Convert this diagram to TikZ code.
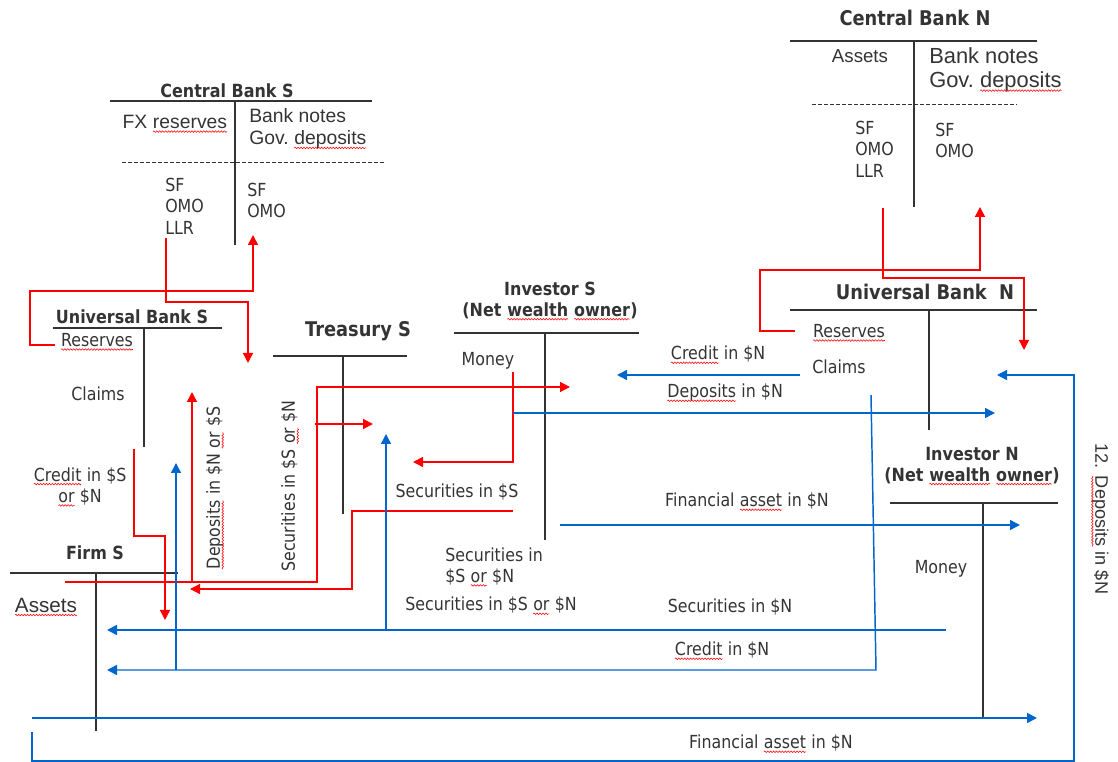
\documentclass[tikz,border=0pt]{standalone}
\usepackage{fontspec}
\setmainfont{DejaVu Sans}[FakeStretch=0.88]
\newfontfamily\arialfont{Liberation Sans}
\usetikzlibrary{arrows.meta,decorations.pathmorphing}

\definecolor{textgray}{RGB}{52,52,52}
\definecolor{linegray}{RGB}{51,51,51}
\definecolor{flowred}{RGB}{255,0,0}
\definecolor{flowblue}{RGB}{0,102,204}

% red wavy underline as in the original slide
\newcommand{\wavy}[1]{\tikz[baseline=(wavyword.base), x=1pt, y=1pt]{%
  \node[inner sep=0pt, outer sep=0pt] (wavyword) {#1};
  \draw[flowred, line width=0.4pt, decorate, decoration={snake, amplitude=0.6pt, segment length=2.2pt}]
    ([yshift=-2.2pt]wavyword.base west) -- ([yshift=-2.2pt]wavyword.base east);}}

\begin{document}
\begin{tikzpicture}[x=0.75pt, y=-0.75pt,
    acct/.style={line width=2.2pt, draw=linegray},
    split/.style={line width=0.6pt, dash pattern=on 3pt off 1.5pt, draw=linegray},
    head/.style={font=\bfseries\fontsize{13.6}{15.8}\selectfont, text=textgray, inner sep=0pt, align=center},
    bighead/.style={head, font=\bfseries\fontsize{15.2}{17}\selectfont},
    lbl/.style={font=\fontsize{13.5}{16}\selectfont, text=textgray, inner sep=0pt, align=left},
    cbtxt/.style={font=\arialfont\fontsize{14.5}{18}\selectfont, text=textgray, inner sep=0pt, anchor=west},
    redflow/.style={draw=flowred, line width=1.1pt, -{Triangle[length=7.5pt,width=7.5pt]}},
    blueflow/.style={draw=flowblue, line width=1.1pt, -{Triangle[length=7.5pt,width=7.5pt]}},
]
\useasboundingbox (0,0) rectangle (1118,762);

% CENTRAL BANK S
\node[head] (cbsTitle) at (227,91) {Central Bank S};
\draw[acct] (110,101) -- (372,101);
\draw[acct] (235,101) -- (235,245);
\draw[split] (122,162) -- (385,162);
\node[cbtxt, anchor=center] (cbsFX) at (175,124) {FX \wavy{reserves}};
\node[cbtxt] (cbsNotes) at (249,116) {Bank notes};
\node[cbtxt] (cbsGov) at (249,140) {Gov.\ \wavy{deposits}};
\node[lbl, anchor=north west] (cbsLeft) at (165,178) {SF\\OMO\\LLR};
\node[lbl, anchor=north west] (cbsRight) at (247,183) {SF\\OMO};

% CENTRAL BANK N
\node[bighead] (cbnTitle) at (915,18) {Central Bank N};
\draw[acct] (790,41) -- (1037,41);
\draw[acct] (914,41) -- (914,207);
\draw[split] (812,104) -- (1017,104);
\node[cbtxt, anchor=center, font=\arialfont\fontsize{14}{17}\selectfont] (cbnAssets) at (860,56) {Assets};
\node[cbtxt, font=\arialfont\fontsize{16.4}{20}\selectfont] (cbnNotes) at (929,56) {Bank notes};
\node[cbtxt, font=\arialfont\fontsize{16.4}{20}\selectfont] (cbnGov) at (929,82) {Gov.\ \wavy{deposits}};
\node[lbl, anchor=north west] (cbnLeft) at (855,121) {SF\\OMO\\LLR};
\node[lbl, anchor=north west] (cbnRight) at (935,123) {SF\\OMO};

% UNIVERSAL BANK S
\node[head] (ubsTitle) at (132,317) {Universal Bank S};
\draw[acct] (53,328) -- (222,328);
\draw[acct] (144,328) -- (144,447);
\node[lbl] (ubsRes) at (97,342) {\wavy{Reserves}};
\node[lbl] (ubsClaims) at (98,394) {Claims};

% TREASURY S
\node[bighead] (trsTitle) at (358,331) {Treasury S};
\draw[acct] (273,356) -- (407,356);
\draw[acct] (343,356) -- (343,514);

% INVESTOR S
\node[head] (invsTitle) at (550,301) {Investor S\\(Net \wavy{wealth} \wavy{owner})};
\draw[acct] (454,333) -- (639,333);
\draw[acct] (545,333) -- (545,540);
\node[lbl] (invsMoney) at (488,361) {Money};

% UNIVERSAL BANK N
\node[bighead] (ubnTitle) at (925,292) {Universal Bank\ \ N};
\draw[acct] (790,310) -- (1037,310);
\draw[acct] (929,310) -- (929,430);
\node[lbl] (ubnRes) at (849,333) {\wavy{Reserves}};
\node[lbl] (ubnClaims) at (839,367) {Claims};

% INVESTOR N
\node[head] (invnTitle) at (972,466) {Investor N\\(Net \wavy{wealth} \wavy{owner})};
\draw[acct] (890,503) -- (1058,503);
\draw[acct] (983,503) -- (983,718);
\node[lbl] (invnMoney) at (941,569) {Money};

% FIRM S
\node[head] (firmTitle) at (95,553) {Firm S};
\draw[acct] (10,573) -- (178,573);
\draw[acct] (96,573) -- (96,731);
\node[cbtxt, anchor=center, font=\arialfont\fontsize{15.5}{18}\selectfont] (firmAssets) at (46,607) {\wavy{Assets}};

% end points of the flows
\coordinate (ubsOut) at (55,345);
\coordinate (cbsIn) at (253,235);
\coordinate (cbsOut) at (166,238);
\coordinate (ubsIn) at (248,363);
\coordinate (ubnOut) at (795,331);
\coordinate (cbnIn) at (980,207);
\coordinate (cbnOut) at (883,208);
\coordinate (ubnIn) at (1024,350);
\coordinate (ubsCred) at (134,449);
\coordinate (firmCred) at (165,620);
\coordinate (firmPay) at (65,582);
\coordinate (ubsDep) at (192,392);
\coordinate (invsSec) at (570,387);
\coordinate (trsSecOut) at (315,424);
\coordinate (trsSecIn) at (373,424);
\coordinate (invsMon) at (513,372);
\coordinate (trsMon) at (413,462);
\coordinate (invsSecS) at (513,511);
\coordinate (firmSec) at (190,589);

\coordinate (ubnCred) at (800,375);
\coordinate (invsCred) at (617,375);
\coordinate (invsDep) at (513,413);
\coordinate (ubnDep) at (995,413);
\coordinate (firmDepN) at (32,732);
\coordinate (ubnDepIn) at (997,375);
\coordinate (firmFin) at (32,718);
\coordinate (invnFin) at (1037,718);
\coordinate (invnSec) at (946,630);
\coordinate (firmSecN) at (107,630);
\coordinate (secFork) at (386,630);
\coordinate (trsSecN) at (386,434);
\coordinate (ubnClaim) at (871,395);
\coordinate (firmCredN) at (107,670);
\coordinate (credFork) at (176,670);
\coordinate (ubsCredN) at (176,463);
\coordinate (invsFin) at (560,525);
\coordinate (invnFinIn) at (1020,525);

% red flows
\draw[redflow] (ubsOut) -| (30,291) -| (cbsIn);
\draw[redflow] (cbsOut) |- (248,302) -- (ubsIn);
\draw[redflow] (ubnOut) -| (760,270) -| (cbnIn);
\draw[redflow] (cbnOut) |- (1024,278) -- (ubnIn);
\draw[redflow] (ubsCred) |- (165,536) -- (firmCred);
\draw[redflow] (firmPay) -| (ubsDep);
\draw[redflow] (firmPay) -| (317,387) -- (invsSec);
\draw[redflow] (trsSecOut) -- (trsSecIn);
\draw[redflow] (invsMon) |- (trsMon);
\draw[redflow] (invsSecS) -| (352,589) -- (firmSec);

% blue flows
\draw[blueflow] (ubnCred) -- (invsCred);
\draw[blueflow] (invsDep) -- (ubnDep);
\draw[blueflow] (firmDepN) |- (1074,761) |- (ubnDepIn);
\draw[blueflow] (firmFin) -- (invnFin);
\draw[blueflow] (invnSec) -- (firmSecN);
\draw[blueflow] (secFork) -- (trsSecN);
\draw[blueflow] (ubnClaim) -- (876,670) -- (firmCredN);
\draw[blueflow] (credFork) -- (ubsCredN);
\draw[blueflow] (invsFin) -- (invnFinIn);

% labels
\node[lbl, align=center] (lCredS) at (80,487) {\wavy{Credit} in \$S\\\wavy{or} \$N};
\node[lbl, rotate=90] (lDepNS) at (215,488) {\wavy{Deposits} in \$N \wavy{or} \$S};
\node[lbl, rotate=90] (lSecSN) at (290,486) {Securities in \$S \wavy{or} \$N};
\node[lbl, rotate=-90, font=\arialfont\fontsize{13.6}{16}\selectfont] (lDep12) at (1100,519) {12. \wavy{Deposits} in \$N};
\node[lbl] (lCredN) at (718,355) {\wavy{Credit} in \$N};
\node[lbl] (lDepN) at (725,393) {\wavy{Deposits} in \$N};
\node[lbl] (lFinN) at (747,502) {Financial \wavy{asset} in \$N};
\node[lbl] (lSecS) at (457,492) {Securities in \$S};
\node[lbl, anchor=west] (lSecSorN) at (445,567) {Securities in\\\$S \wavy{or} \$N};
\node[lbl] (lSecSN2) at (491,606) {Securities in \$S \wavy{or} \$N};
\node[lbl] (lSecN) at (730,607) {Securities in \$N};
\node[lbl] (lCredN2) at (722,651) {\wavy{Credit} in \$N};
\node[lbl] (lFinN2) at (771,744) {Financial \wavy{asset} in \$N};
\end{tikzpicture}
\end{document}
